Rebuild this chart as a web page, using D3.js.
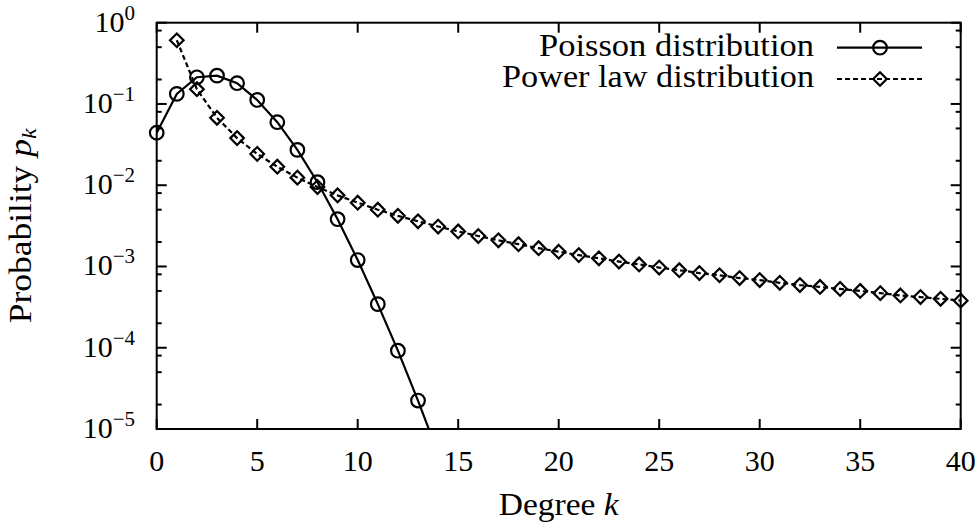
<!DOCTYPE html>
<html>
<head>
<meta charset="utf-8">
<script src="https://cdn.jsdelivr.net/npm/d3@7"></script>
<style>
  body { margin: 0; background: #fff; }
  svg text { font-family: "Liberation Serif", "Times New Roman", Times, "DejaVu Serif", serif; fill: #000; }
</style>
</head>
<body>
<svg id="chart" width="979" height="525"></svg>
<script>
// degree values and probabilities
const poissonK = [0, 1, 2, 3, 4, 5, 6, 7, 8, 9, 10, 11, 12, 13, 14];
const poissonP = [0.0442, 0.133, 0.213, 0.223, 0.180, 0.112, 0.0596, 0.0272, 0.0109,
  0.00382, 0.00120, 0.000344, 0.000092, 0.0000224, 0.0000050];

const powerK = [1, 2, 3, 4, 5, 6, 7, 8, 9, 10, 11, 12, 13, 14, 15, 16, 17, 18, 19, 20,
  21, 22, 23, 24, 25, 26, 27, 28, 29, 30, 31, 32, 33, 34, 35, 36, 37, 38, 39, 40];
const powerP = [0.608, 0.152, 0.0675, 0.038, 0.0243, 0.0169, 0.0124, 0.0095, 0.0075, 0.0061,
  0.0050, 0.0042, 0.0036, 0.0031, 0.0027, 0.00237, 0.0021, 0.00188, 0.00168, 0.00152,
  0.00138, 0.00126, 0.00115, 0.00106, 0.00097, 0.0009, 0.00083, 0.00078, 0.00072, 0.00068,
  0.00063, 0.00059, 0.00056, 0.00053, 0.0005, 0.00047, 0.00044, 0.00042, 0.0004, 0.00038];

const xTicks = [0, 5, 10, 15, 20, 25, 30, 35, 40];
const yExponents = [0, -1, -2, -3, -4, -5];
const yMinorMultipliers = [2, 5, 8];
const seriesNames = ['Poisson distribution', 'Power law distribution'];

const serif = '"Liberation Serif", "Times New Roman", Times, "DejaVu Serif", serif';
const dim = { left: 156.7, right: 960.7, top: 22.7, bottom: 429 };

const xScale = d3.scaleLinear().domain([0, 40]).range([dim.left, dim.right]);
const yScale = d3.scaleLog().domain([1e-5, 1]).range([dim.bottom, dim.top]);

const $svg = d3.select('#chart').attr('font-family', serif);

$svg.append('defs').append('clipPath').attr('id', 'plotClip')
  .append('rect')
  .attr('x', dim.left).attr('y', dim.top)
  .attr('width', dim.right - dim.left).attr('height', dim.bottom - dim.top);

// ticks (inward, mirrored)
const $ticks = $svg.append('g').attr('stroke', '#000').attr('stroke-width', 2);
xTicks.forEach((t) => {
  $ticks.append('line').attr('x1', xScale(t)).attr('x2', xScale(t))
    .attr('y1', dim.bottom).attr('y2', dim.bottom - 10);
  $ticks.append('line').attr('x1', xScale(t)).attr('x2', xScale(t))
    .attr('y1', dim.top).attr('y2', dim.top + 10);
});
yExponents.forEach((e) => {
  const v = Math.pow(10, e);
  [[dim.left, 10], [dim.right, -10]].forEach(([x0, len]) => {
    $ticks.append('line').attr('x1', x0).attr('x2', x0 + len)
      .attr('y1', yScale(v)).attr('y2', yScale(v));
  });
  if (e > -5) {
    yMinorMultipliers.forEach((m) => {
      const mv = m * Math.pow(10, e - 1);
      [[dim.left, 5], [dim.right, -5]].forEach(([x0, len]) => {
        $ticks.append('line').attr('x1', x0).attr('x2', x0 + len)
          .attr('y1', yScale(mv)).attr('y2', yScale(mv));
      });
    });
  }
});

// tick labels
xTicks.forEach((t) => {
  $svg.append('text').text(t)
    .attr('x', xScale(t)).attr('y', dim.bottom + 42)
    .attr('font-family', serif)
    .attr('text-anchor', 'middle').attr('font-size', 30);
});
yExponents.forEach((e) => {
  const $t = $svg.append('text')
    .attr('x', 135).attr('y', yScale(Math.pow(10, e)) + 9)
    .attr('font-family', serif)
    .attr('text-anchor', 'end').attr('font-size', 30);
  $t.append('tspan').text('10');
  $t.append('tspan').text(e === 0 ? '0' : '\u2212' + (-e))
    .attr('font-size', 21).attr('dy', -12);
});

// axis titles (Times is narrower than the original Computer Modern, so stretch to width)
const $xl = $svg.append('text')
  .attr('x', (dim.left + dim.right) / 2).attr('y', 515)
  .attr('font-family', serif)
  .attr('text-anchor', 'middle').attr('font-size', 31)
  .attr('textLength', 120).attr('lengthAdjust', 'spacingAndGlyphs');
$xl.append('tspan').text('Degree ');
$xl.append('tspan').text('k').attr('font-style', 'italic');

const $yl = $svg.append('text')
  .attr('font-family', serif)
  .attr('text-anchor', 'middle').attr('font-size', 31)
  .attr('textLength', 195).attr('lengthAdjust', 'spacingAndGlyphs')
  .attr('transform', 'translate(31,' + ((dim.top + dim.bottom) / 2) + ') rotate(-90)');
$yl.append('tspan').text('Probability ');
$yl.append('tspan').text('p').attr('font-style', 'italic');
$yl.append('tspan').text('k').attr('font-style', 'italic').attr('font-size', 21).attr('dy', 5);

// series
const line = d3.line().x((d) => xScale(d[0])).y((d) => yScale(d[1]));
const poissonData = poissonK.map((k, i) => [k, poissonP[i]]);
const powerData = powerK.map((k, i) => [k, powerP[i]]);

$svg.append('path').datum(poissonData)
  .attr('clip-path', 'url(#plotClip)')
  .attr('d', line).attr('fill', 'none').attr('stroke', '#000').attr('stroke-width', 2.2);
$svg.append('g').selectAll('circle')
  .data(poissonData.filter((d) => d[1] >= 1e-5))
  .enter().append('circle')
  .attr('cx', (d) => xScale(d[0])).attr('cy', (d) => yScale(d[1]))
  .attr('r', 6.8).attr('fill', 'none').attr('stroke', '#000').attr('stroke-width', 2.2);

const diamond = (cx, cy, r) => 'M' + cx + ',' + (cy - r) + 'L' + (cx + r) + ',' + cy +
  'L' + cx + ',' + (cy + r) + 'L' + (cx - r) + ',' + cy + 'Z';

$svg.append('path').datum(powerData)
  .attr('clip-path', 'url(#plotClip)')
  .attr('d', line).attr('fill', 'none').attr('stroke', '#000').attr('stroke-width', 2.2)
  .attr('stroke-dasharray', '5,3');
$svg.append('g').selectAll('path')
  .data(powerData)
  .enter().append('path')
  .attr('d', (d) => diamond(xScale(d[0]), yScale(d[1]), 6.8))
  .attr('fill', 'none').attr('stroke', '#000').attr('stroke-width', 2.2);

// border
$svg.append('rect')
  .attr('x', dim.left).attr('y', dim.top)
  .attr('width', dim.right - dim.left).attr('height', dim.bottom - dim.top)
  .attr('fill', 'none').attr('stroke', '#000').attr('stroke-width', 2);

// legend
const legendRows = [47.7, 79];
const legendWidths = [275, 312];
seriesNames.forEach((name, i) => {
  const y = legendRows[i];
  $svg.append('text').text(name)
    .attr('x', 814).attr('y', y + 8)
    .attr('font-family', serif)
    .attr('text-anchor', 'end').attr('font-size', 31)
    .attr('textLength', legendWidths[i]).attr('lengthAdjust', 'spacingAndGlyphs');
  $svg.append('line')
    .attr('x1', 837).attr('x2', 922).attr('y1', y).attr('y2', y)
    .attr('stroke', '#000').attr('stroke-width', 2.2)
    .attr('stroke-dasharray', i === 1 ? '5,3' : null);
  if (i === 0) {
    $svg.append('circle').attr('cx', 880).attr('cy', y).attr('r', 6.8)
      .attr('fill', 'none').attr('stroke', '#000').attr('stroke-width', 2.2);
  } else {
    $svg.append('path').attr('d', diamond(880, y, 6.8))
      .attr('fill', 'none').attr('stroke', '#000').attr('stroke-width', 2.2);
  }
});
</script>
</body>
</html>
